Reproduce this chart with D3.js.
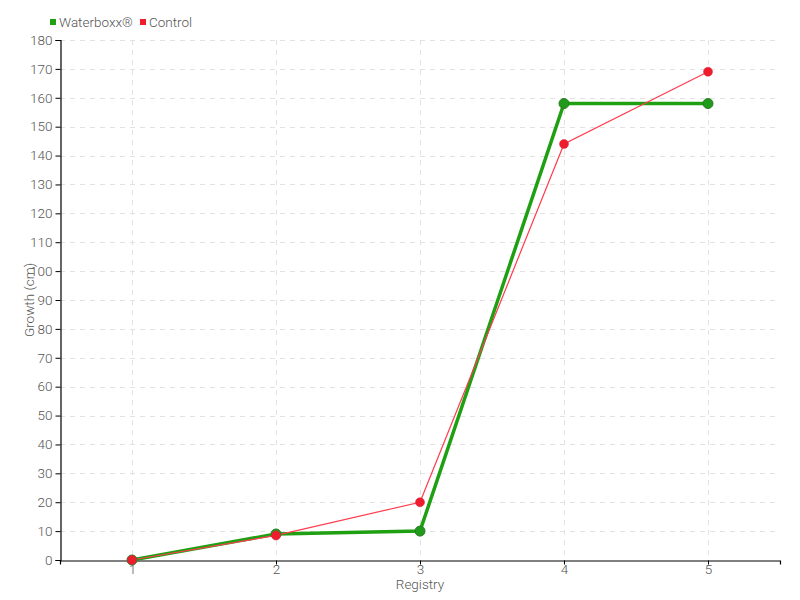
<!DOCTYPE html>
<html>
<head>
<meta charset="utf-8">
<script src="https://cdn.jsdelivr.net/npm/d3@7"></script>
<style>
  body { margin: 0; background: #fff; }
  text { font-family: Roboto, "Liberation Sans", sans-serif; font-weight: 300; fill: #555; }
</style>
</head>
<body>
<script>
// chart data
var registries = ["1", "2", "3", "4", "5"];
var waterboxx = [0, 9, 10, 158, 158];
var control = [0, 8.5, 20, 144, 169];
var yTicks = d3.range(0, 181, 10);

var width = 800, height = 600;
var margin = {top: 40, right: 20, bottom: 40, left: 60};
var innerW = width - margin.left - margin.right;
var innerH = height - margin.top - margin.bottom;

var svg = d3.select("body").append("svg")
    .attr("width", width)
    .attr("height", height);

var g = svg.append("g")
    .attr("transform", "translate(" + margin.left + "," + margin.top + ")");

var x = d3.scalePoint()
    .domain(registries)
    .range([0, innerW])
    .padding(0.5);

var y = d3.scaleLinear()
    .domain([0, 180])
    .range([innerH, 0]);

// grid
g.selectAll(".hgrid")
    .data(yTicks.slice(1))
    .enter().append("line")
    .attr("x1", 0).attr("x2", innerW)
    .attr("y1", function(d) { return Math.round(y(d)) + 0.5; })
    .attr("y2", function(d) { return Math.round(y(d)) + 0.5; })
    .style("stroke", "#e2e2e2")
    .style("stroke-dasharray", "5,5");

g.selectAll(".vgrid")
    .data(registries)
    .enter().append("line")
    .attr("x1", function(d) { return x(d) + 0.5; })
    .attr("x2", function(d) { return x(d) + 0.5; })
    .attr("y1", 0).attr("y2", innerH)
    .style("stroke", "#e2e2e2")
    .style("stroke-dasharray", "5,5");

// axes
var yAxis = g.append("g")
    .attr("transform", "translate(0.5,0)")
    .call(d3.axisLeft(y).tickValues(yTicks).tickSize(5).tickPadding(3));

var xAxis = g.append("g")
    .attr("transform", "translate(0," + (innerH + 0.5) + ")")
    .call(d3.axisBottom(x).tickSize(4).tickPadding(0));

[yAxis, xAxis].forEach(function(a) {
  a.select(".domain").style("stroke", "#000").style("stroke-width", 1.2);
  a.selectAll(".tick line").style("stroke", "#000");
  a.selectAll(".tick text").style("font-family", null).style("font-size", "13.5px").style("fill", "#555");
});

// axis titles
svg.append("text")
    .attr("transform", "translate(34," + (margin.top + innerH / 2) + ") rotate(-90)")
    .attr("text-anchor", "middle")
    .style("font-size", "13.5px")
    .text("Growth (cm)");

svg.append("text")
    .attr("x", margin.left + x("3"))
    .attr("y", 589)
    .attr("text-anchor", "middle")
    .style("font-size", "13.5px")
    .text("Registry");

// lines
var line = d3.line()
    .x(function(d, i) { return x(registries[i]); })
    .y(function(d) { return y(d); });

g.append("path")
    .datum(waterboxx)
    .attr("d", line)
    .style("fill", "none")
    .style("stroke", "#1ea012")
    .style("stroke-width", 3.5);

g.append("path")
    .datum(control)
    .attr("d", line)
    .style("fill", "none")
    .style("stroke", "#ff3b4e")
    .style("stroke-width", 1.2);

g.selectAll(".wdot")
    .data(waterboxx)
    .enter().append("circle")
    .attr("cx", function(d, i) { return x(registries[i]); })
    .attr("cy", function(d) { return y(d); })
    .attr("r", 5)
    .style("fill", "#1f9a1a")
    .style("stroke", "#2a7a24")
    .style("stroke-width", 1);

g.selectAll(".cdot")
    .data(control)
    .enter().append("circle")
    .attr("cx", function(d, i) { return x(registries[i]); })
    .attr("cy", function(d) { return y(d); })
    .attr("r", 4.5)
    .style("fill", "#ee1c2c")
    .style("stroke", "#d8283a")
    .style("stroke-width", 0.5);

// legend
var legendItems = [
  {name: "Waterboxx\u00ae", color: "#1ea012", x: 50},
  {name: "Control", color: "#ee1c2c", x: 140}
];
var legend = svg.selectAll(".legend")
    .data(legendItems)
    .enter().append("g")
    .attr("transform", function(d) { return "translate(" + d.x + ",0)"; });
legend.append("rect")
    .attr("x", 0).attr("y", 19)
    .attr("width", 6).attr("height", 6)
    .style("fill", function(d) { return d.color; });
legend.append("text")
    .attr("x", 9).attr("y", 27)
    .style("font-size", "13.5px")
    .text(function(d) { return d.name; });
</script>
</body>
</html>
